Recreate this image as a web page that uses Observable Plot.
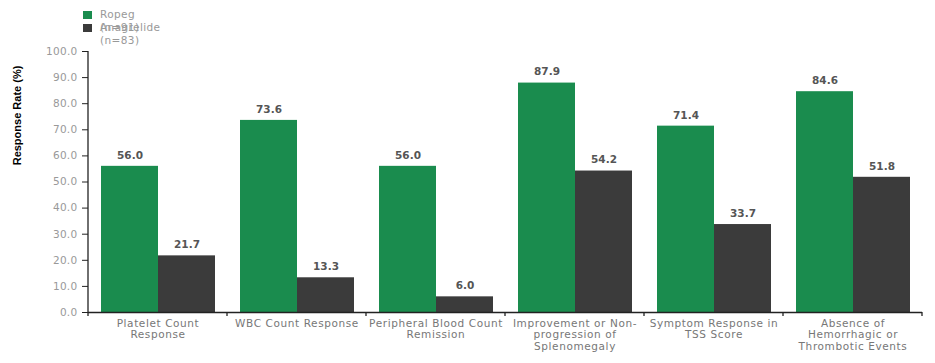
<!DOCTYPE html>
<html><head><meta charset="utf-8">
<script src="https://cdn.jsdelivr.net/npm/d3@7"></script>
<script src="https://cdn.jsdelivr.net/npm/@observablehq/plot@0.6"></script>
<style>
body{margin:0;background:#fff;}
#wrap{position:relative;width:935px;height:363px;}
#chart{position:absolute;left:0;top:0;}
#legend{position:absolute;left:83px;top:9px;font:10.5px "DejaVu Sans";color:#999;letter-spacing:0.4px;}
.item{height:13px;display:flex;align-items:flex-start;}
.sw{width:9px;height:8px;margin-right:8px;margin-top:2px;flex:none;}
.lab{white-space:pre;line-height:13px;margin-top:-1px;}
</style></head><body>
<div id="wrap"><div id="chart"></div><div id="legend"></div></div>
<script>
const categories = ["Platelet", "WBC", "Peripheral", "Spleen", "Symptom", "Absence"];
const tickLabels = [
  "Platelet Count\nResponse",
  "WBC Count Response",
  "Peripheral Blood Count\nRemission",
  "Improvement or Non-\nprogression of\nSplenomegaly",
  "Symptom Response in\nTSS Score",
  "Absence of\nHemorrhagic or\nThrombotic Events"
];
const series = ["Ropeg", "Anagrelide"];
const seriesLabels = ["Ropeg\n(n=91)", "Anagrelide\n(n=83)"];
const ropeg = [56.0, 73.6, 56.0, 87.9, 71.4, 84.6];
const anagrelide = [21.7, 13.3, 6.0, 54.2, 33.7, 51.8];
const colors = ["#1a8c4e", "#3b3b3b"];
const yTicks = [0, 10, 20, 30, 40, 50, 60, 70, 80, 90, 100];
const yLabel = "Response Rate (%)";

const data = categories.flatMap((c, i) => [
  {cat: c, series: series[0], value: ropeg[i]},
  {cat: c, series: series[1], value: anagrelide[i]}
]);

const chart = Plot.plot({
  width: 935, height: 363,
  marginLeft: 88, marginRight: 13, marginTop: 51, marginBottom: 51,
  style: {fontFamily: "DejaVu Sans", background: "#fff", overflow: "visible"},
  fx: {domain: categories, padding: 0, label: null},
  x: {domain: series, paddingInner: 0, paddingOuter: 0.2, axis: null},
  y: {domain: [0, 100], axis: null, label: null},
  color: {domain: series, range: colors},
  marks: [
    Plot.barY(data, {fx: "cat", x: "series", y: "value", fill: "series"}),
    Plot.text(data, {fx: "cat", x: "series", y: "value", text: d => d.value.toFixed(1),
      dy: -11, fill: "#555", fontWeight: "bold", fontSize: 10.5}),
    Plot.ruleY([0], {stroke: "#222", strokeWidth: 1.3}),
    Plot.axisY({ticks: yTicks, tickSize: 6, tickFormat: () => "", stroke: "#222", label: null}),
    Plot.axisY({ticks: yTicks, tickSize: 0, tickPadding: 11, tickFormat: ".1f", fill: "#999", fontSize: 10.5, label: null}),
    Plot.axisFx({anchor: "bottom", tickSize: 0, tickPadding: 6, fontSize: 10.5, lineHeight: 1.1,
      fill: "#777", label: null, tickFormat: d => tickLabels[categories.indexOf(d)]})
  ]
});
document.getElementById("chart").append(chart);

const svg = d3.select(chart);
svg.selectAll("g[aria-label='fx-axis tick label'] text").style("letter-spacing", "0.6px");
svg.selectAll("g[aria-label='y-axis tick label'] text").style("letter-spacing", "0.3px");

// axis lines and group boundary ticks from the plot's own scales
const fx = chart.scale("fx"), y = chart.scale("y");
const x0 = fx.apply(categories[0]);
const [yb, yt] = [y.apply(0), y.apply(100)];
svg.append("line").attr("x1", x0).attr("x2", x0).attr("y1", yb).attr("y2", yt)
  .attr("stroke", "#222").attr("stroke-width", 1.3);
const bounds = categories.map(c => fx.apply(c)).concat([fx.apply(categories[categories.length - 1]) + fx.bandwidth]);
svg.append("g").selectAll("line").data(bounds).join("line")
  .attr("x1", d => d).attr("x2", d => d).attr("y1", yb).attr("y2", yb + 4)
  .attr("stroke", "#222").attr("stroke-width", 1.3);
svg.append("text").text(yLabel)
  .attr("transform", `translate(21,${(yt + yb) / 2 - 66}) rotate(-90)`)
  .attr("text-anchor", "middle").attr("font-family", "Liberation Sans")
  .attr("font-weight", "bold").attr("font-size", 11).attr("fill", "#000");

// legend
const legend = d3.select("#legend");
series.forEach((s, i) => {
  const it = legend.append("div").attr("class", "item");
  it.append("div").attr("class", "sw").style("background", colors[i]);
  it.append("div").attr("class", "lab").text(seriesLabels[i]);
});
</script>
</body></html>
